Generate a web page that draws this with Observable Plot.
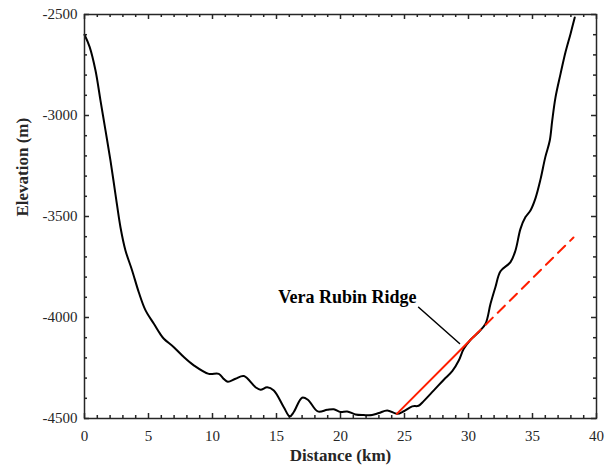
<!DOCTYPE html>
<html>
<head>
<meta charset="utf-8">
<script src="https://cdn.jsdelivr.net/npm/d3@7"></script>
<script src="https://cdn.jsdelivr.net/npm/@observablehq/plot@0.6"></script>
<style>
  html, body { margin: 0; padding: 0; background: #fff; }
  svg text { font-family: "Liberation Serif", "Times New Roman", serif; }
</style>
</head>
<body>
<div id="chart"></div>
<script>
// Profile (distance km, elevation m)
const distance = [0.0, 0.4, 0.86, 1.25, 1.64, 2.03, 2.42, 2.81, 3.2, 3.72, 4.24, 4.77, 5.42, 5.9, 6.2, 6.98, 7.76, 8.54, 9.71, 10.49, 10.9, 11.2, 11.8, 12.45, 13.36, 13.75, 14.27, 14.79, 15.57, 16.04, 16.35, 17.0, 17.45, 18.23, 18.96, 19.48, 20.0, 20.52, 21.17, 21.82, 22.47, 23.0, 23.65, 24.43, 24.95, 25.6, 26.1, 26.5, 27.29, 28.07, 28.73, 29.24, 29.63, 30.16, 30.8, 31.33, 31.72, 32.1, 32.5, 33.28, 33.67, 34.06, 34.45, 34.84, 35.23, 35.63, 36.0, 36.35, 36.54, 36.8, 37.19, 37.58, 37.97, 38.3];
const elevation = [-2600, -2660, -2777, -2926, -3074, -3223, -3390, -3553, -3668, -3767, -3875, -3965, -4031, -4080, -4105, -4147, -4196, -4237, -4279, -4279, -4305, -4318, -4303, -4290, -4345, -4358, -4345, -4361, -4444, -4490, -4468, -4397, -4407, -4465, -4457, -4454, -4468, -4465, -4480, -4483, -4483, -4473, -4460, -4477, -4464, -4440, -4437, -4414, -4361, -4308, -4266, -4213, -4155, -4110, -4072, -4031, -3932, -3850, -3771, -3726, -3668, -3561, -3503, -3470, -3410, -3315, -3206, -3124, -3025, -2909, -2794, -2686, -2596, -2515];

// Red slope fit (solid) and its extension (dashed)
const fitX = [24.4, 30.4];
const fitY = [-4477, -4095];
const extX = [30.4, 38.2];
const extY = [-4095, -3604];

// Annotation
const annoLabel = "Vera Rubin Ridge";
const annoTextX = 25.94;
const annoTextY = -3901;
const annoLineX = [26.1, 29.3];
const annoLineY = [-3949, -4129];

// Ticks
const xMajor = [0, 5, 10, 15, 20, 25, 30, 35, 40];
const xMinor = d3.range(0, 41, 1).filter(v => v % 5 !== 0);
const yMajor = [-4500, -4000, -3500, -3000, -2500];
const yMinor = d3.range(-4500, -2499, 100).filter(v => v % 500 !== 0);

const profile = distance.map((d, i) => ({x: d, y: elevation[i]}));
const fit = fitX.map((d, i) => ({x: d, y: fitY[i]}));
const ext = extX.map((d, i) => ({x: d, y: extY[i]}));
const anno = annoLineX.map((d, i) => ({x: d, y: annoLineY[i]}));

const W = 613, H = 471;
const mL = 84, mR = 17, mT = 14, mB = 53;
const fw = W - mL - mR, fh = H - mT - mB;
const ink = "#262626";
const serif = "Liberation Serif";

const chart = Plot.plot({
  width: W,
  height: H,
  marginLeft: mL,
  marginRight: mR,
  marginTop: mT,
  marginBottom: mB,
  style: {fontFamily: "'Liberation Serif', 'Times New Roman', serif", fontSize: "15px", background: "#fff", color: ink},
  x: {domain: [0, 40], axis: null},
  y: {domain: [-4500, -2500], axis: null},
  marks: [
    Plot.axisX({ticks: xMajor, tickSize: 0, tickPadding: 12, label: null, fill: ink, fontSize: 15, fontFamily: serif}),
    Plot.axisY({ticks: yMajor, tickSize: 0, tickPadding: 7, label: null, fill: ink, fontSize: 15, fontFamily: serif, tickFormat: d => String(d)}),
    // inward ticks
    Plot.tickX(xMajor, {x: d => d, insetTop: fh - 5, stroke: ink, strokeWidth: 1.5}),
    Plot.tickX(xMajor, {x: d => d, insetBottom: fh - 5, stroke: ink, strokeWidth: 1.5}),
    Plot.tickX(xMinor, {x: d => d, insetTop: fh - 3, stroke: ink, strokeWidth: 1.5}),
    Plot.tickX(xMinor, {x: d => d, insetBottom: fh - 3, stroke: ink, strokeWidth: 1.5}),
    Plot.tickY(yMajor, {y: d => d, insetRight: fw - 5, stroke: ink, strokeWidth: 1.5}),
    Plot.tickY(yMajor, {y: d => d, insetLeft: fw - 5, stroke: ink, strokeWidth: 1.5}),
    Plot.tickY(yMinor, {y: d => d, insetRight: fw - 3, stroke: ink, strokeWidth: 1.5}),
    Plot.tickY(yMinor, {y: d => d, insetLeft: fw - 3, stroke: ink, strokeWidth: 1.5}),
    // data
    Plot.line(profile, {x: "x", y: "y", stroke: "#000", strokeWidth: 2, strokeLinejoin: "round", curve: "catmull-rom"}),
    Plot.line(fit, {x: "x", y: "y", stroke: "#ff1e00", strokeWidth: 2}),
    Plot.line(ext, {x: "x", y: "y", stroke: "#ff1e00", strokeWidth: 2, strokeDasharray: "10,7"}),
    Plot.line(anno, {x: "x", y: "y", stroke: "#000", strokeWidth: 1.5}),
    Plot.text([annoLabel], {x: annoTextX, y: annoTextY, text: d => d, textAnchor: "end", fontWeight: "bold", fontSize: 18, fontFamily: serif, fill: "#000"}),
    // axis titles
    Plot.text(["Distance (km)"], {frameAnchor: "bottom", dy: 42, text: d => d, fontWeight: "bold", fontSize: 17, fontFamily: serif, fill: ink}),
    Plot.text(["Elevation (m)"], {frameAnchor: "left", dx: -62, rotate: -90, text: d => d, fontWeight: "bold", fontSize: 17, fontFamily: serif, fill: ink}),
    Plot.frame({stroke: ink, strokeWidth: 1.5})
  ]
});
document.getElementById("chart").appendChild(chart);
</script>
</body>
</html>
